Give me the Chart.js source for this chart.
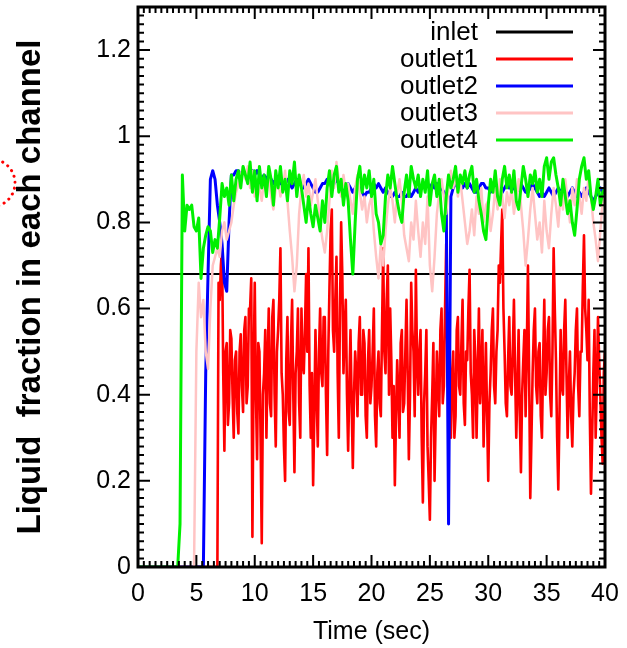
<!DOCTYPE html>
<html>
<head>
<meta charset="utf-8">
<script src="https://cdn.jsdelivr.net/npm/chart.js@4.4.1/dist/chart.umd.min.js"></script>
<style>
  html, body { margin: 0; padding: 0; background: #fff; }
  #wrap { width: 627px; height: 648px; }
</style>
</head>
<body>
<div id="wrap"><canvas id="chart"></canvas></div>
<script>
// sample times (sec) for outlet2..4
const timeSec = [
  0,0.2,0.4,0.6,0.8,1,1.2,1.4,1.6,1.8,
  2,2.2,2.4,2.6,2.8,3,3.2,3.4,3.6,3.8,
  4,4.2,4.4,4.6,4.8,5,5.2,5.4,5.6,5.8,
  6,6.2,6.4,6.6,6.8,7,7.2,7.4,7.6,7.8,
  8,8.2,8.4,8.6,8.8,9,9.2,9.4,9.6,9.8,
  10,10.2,10.4,10.6,10.8,11,11.2,11.4,11.6,11.8,
  12,12.2,12.4,12.6,12.8,13,13.2,13.4,13.6,13.8,
  14,14.2,14.4,14.6,14.8,15,15.2,15.4,15.6,15.8,
  16,16.2,16.4,16.6,16.8,17,17.2,17.4,17.6,17.8,
  18,18.2,18.4,18.6,18.8,19,19.2,19.4,19.6,19.8,
  20,20.2,20.4,20.6,20.8,21,21.2,21.4,21.6,21.8,
  22,22.2,22.4,22.6,22.8,23,23.2,23.4,23.6,23.8,
  24,24.2,24.4,24.6,24.8,25,25.2,25.4,25.6,25.8,
  26,26.2,26.4,26.6,26.8,27,27.2,27.4,27.6,27.8,
  28,28.2,28.4,28.6,28.8,29,29.2,29.4,29.6,29.8,
  30,30.2,30.4,30.6,30.8,31,31.2,31.4,31.6,31.8,
  32,32.2,32.4,32.6,32.8,33,33.2,33.4,33.6,33.8,
  34,34.2,34.4,34.6,34.8,35,35.2,35.4,35.6,35.8,
  36,36.2,36.4,36.6,36.8,37,37.2,37.4,37.6,37.8,
  38,38.2,38.4,38.6,38.8,39,39.2,39.4,39.6,39.8,
  40
];

// outlet1 is sampled finer (noisier signal)
const outlet1Time = [
  0, 6.8, 6.9,
  7,7.1,7.2,7.3,7.4,7.5,7.6,7.7,7.8,7.9,
  8,8.1,8.2,8.3,8.4,8.5,8.6,8.7,8.8,8.9,
  9,9.1,9.2,9.3,9.4,9.5,9.6,9.7,9.8,9.9,
  10,10.1,10.2,10.3,10.4,10.5,10.6,10.7,10.8,10.9,
  11,11.1,11.2,11.3,11.4,11.5,11.6,11.7,11.8,11.9,
  12,12.1,12.2,12.3,12.4,12.5,12.6,12.7,12.8,12.9,
  13,13.1,13.2,13.3,13.4,13.5,13.6,13.7,13.8,13.9,
  14,14.1,14.2,14.3,14.4,14.5,14.6,14.7,14.8,14.9,
  15,15.1,15.2,15.3,15.4,15.5,15.6,15.7,15.8,15.9,
  16,16.1,16.2,16.3,16.4,16.5,16.6,16.7,16.8,16.9,
  17,17.1,17.2,17.3,17.4,17.5,17.6,17.7,17.8,17.9,
  18,18.1,18.2,18.3,18.4,18.5,18.6,18.7,18.8,18.9,
  19,19.1,19.2,19.3,19.4,19.5,19.6,19.7,19.8,19.9,
  20,20.1,20.2,20.3,20.4,20.5,20.6,20.7,20.8,20.9,
  21,21.1,21.2,21.3,21.4,21.5,21.6,21.7,21.8,21.9,
  22,22.1,22.2,22.3,22.4,22.5,22.6,22.7,22.8,22.9,
  23,23.1,23.2,23.3,23.4,23.5,23.6,23.7,23.8,23.9,
  24,24.1,24.2,24.3,24.4,24.5,24.6,24.7,24.8,24.9,
  25,25.1,25.2,25.3,25.4,25.5,25.6,25.7,25.8,25.9,
  26,26.1,26.2,26.3,26.4,26.5,26.6,26.7,26.8,26.9,
  27,27.1,27.2,27.3,27.4,27.5,27.6,27.7,27.8,27.9,
  28,28.1,28.2,28.3,28.4,28.5,28.6,28.7,28.8,28.9,
  29,29.1,29.2,29.3,29.4,29.5,29.6,29.7,29.8,29.9,
  30,30.1,30.2,30.3,30.4,30.5,30.6,30.7,30.8,30.9,
  31,31.1,31.2,31.3,31.4,31.5,31.6,31.7,31.8,31.9,
  32,32.1,32.2,32.3,32.4,32.5,32.6,32.7,32.8,32.9,
  33,33.1,33.2,33.3,33.4,33.5,33.6,33.7,33.8,33.9,
  34,34.1,34.2,34.3,34.4,34.5,34.6,34.7,34.8,34.9,
  35,35.1,35.2,35.3,35.4,35.5,35.6,35.7,35.8,35.9,
  36,36.1,36.2,36.3,36.4,36.5,36.6,36.7,36.8,36.9,
  37,37.1,37.2,37.3,37.4,37.5,37.6,37.7,37.8,37.9,
  38,38.1,38.2,38.3,38.4,38.5,38.6,38.7,38.8,38.9,
  39,39.1,39.2,39.3,39.4,39.5,39.6,39.7,39.8,39.9,
  40
];

const inletTime = [0, 40];
const inletVals = [0.68, 0.68];

const outlet1Vals = [
  0, 0, 0.66,
  0.62,0.7,0.74,0.45,0.27,0.5,0.52,0.33,0.38,0.55,
  0.53,0.4,0.3,0.48,0.5,0.36,0.31,0.5,0.54,0.42,
  0.36,0.55,0.58,0.38,0.42,0.6,0.6,0.67,0.07,0.45,
  0.66,0.4,0.25,0.52,0.5,0.3,0.055,0.4,0.45,0.55,
  0.3,0.48,0.6,0.38,0.35,0.58,0.62,0.4,0.28,0.5,
  0.55,0.62,0.74,0.45,0.4,0.28,0.2,0.48,0.58,0.36,
  0.33,0.52,0.62,0.4,0.22,0.45,0.5,0.6,0.38,0.3,
  0.6,0.48,0.45,0.55,0.68,0.5,0.74,0.42,0.3,0.45,
  0.19,0.35,0.55,0.4,0.28,0.5,0.6,0.45,0.42,0.58,
  0.58,0.4,0.26,0.5,0.65,0.78,0.83,0.55,0.5,0.62,
  0.72,0.45,0.3,0.6,0.8,0.68,0.45,0.55,0.62,0.4,
  0.27,0.42,0.55,0.38,0.23,0.4,0.5,0.45,0.35,0.52,
  0.58,0.4,0.4,0.55,0.52,0.35,0.3,0.48,0.55,0.38,
  0.42,0.5,0.6,0.35,0.28,0.45,0.5,0.38,0.35,0.55,
  0.74,0.5,0.45,0.62,0.7,0.4,0.6,0.48,0.3,0.42,
  0.19,0.35,0.48,0.4,0.3,0.52,0.55,0.36,0.38,0.5,
  0.62,0.45,0.25,0.4,0.66,0.55,0.5,0.35,0.69,0.48,
  0.4,0.5,0.55,0.3,0.15,0.38,0.45,0.55,0.28,0.2,
  0.11,0.3,0.4,0.52,0.2,0.35,0.5,0.42,0.35,0.55,
  0.6,0.38,0.42,0.6,0.75,0.5,0.55,0.4,0.3,0.45,
  0.5,0.3,0.35,0.55,0.58,0.42,0.4,0.52,0.62,0.38,
  0.33,0.5,0.48,0.6,0.69,0.45,0.4,0.3,0.55,0.48,
  0.3,0.45,0.6,0.38,0.45,0.55,0.28,0.4,0.52,0.35,
  0.2,0.38,0.45,0.55,0.6,0.42,0.38,0.5,0.55,0.7,
  0.66,0.75,0.83,0.6,0.5,0.38,0.35,0.48,0.58,0.42,
  0.4,0.5,0.62,0.45,0.3,0.42,0.55,0.35,0.22,0.4,
  0.48,0.55,0.35,0.5,0.7,0.45,0.16,0.3,0.45,0.55,
  0.6,0.42,0.38,0.5,0.52,0.35,0.3,0.48,0.62,0.4,
  0.45,0.55,0.58,0.4,0.35,0.5,0.74,0.6,0.48,0.3,
  0.18,0.35,0.55,0.42,0.4,0.55,0.62,0.45,0.3,0.42,
  0.5,0.35,0.28,0.4,0.45,0.55,0.6,0.42,0.35,0.5,
  0.5,0.65,0.77,0.6,0.55,0.48,0.62,0.35,0.17,0.3,
  0.45,0.55,0.3,0.42,0.58,0.48,0.4,0.3,0.24,0.45,
  0.5
];

const outlet2Vals = [
  0,0,0,0,0,0,0,0,0,0,
  0,0,0,0,0,0,0,0,0,0,
  0,0,0,0,0,0,0,0,0,0.45,
  0.68,0.9,0.92,0.9,0.84,0.8,0.75,0.66,0.64,0.8,
  0.91,0.91,0.92,0.92,0.91,0.92,0.91,0.9,0.91,0.92,
  0.91,0.92,0.91,0.9,0.91,0.9,0.91,0.9,0.89,0.9,
  0.9,0.89,0.9,0.89,0.9,0.89,0.88,0.89,0.9,0.89,
  0.89,0.88,0.89,0.9,0.89,0.88,0.87,0.87,0.88,0.89,
  0.89,0.9,0.89,0.88,0.89,0.9,0.89,0.88,0.87,0.88,
  0.89,0.88,0.87,0.88,0.89,0.88,0.87,0.86,0.87,0.87,
  0.88,0.89,0.88,0.89,0.88,0.87,0.88,0.87,0.86,0.86,
  0.87,0.86,0.86,0.87,0.86,0.86,0.87,0.86,0.87,0.88,
  0.87,0.88,0.89,0.88,0.89,0.88,0.89,0.88,0.89,0.88,
  0.88,0.87,0.86,0.1,0.86,0.88,0.89,0.88,0.89,0.88,
  0.89,0.88,0.89,0.88,0.87,0.87,0.88,0.89,0.89,0.88,
  0.88,0.87,0.89,0.88,0.87,0.86,0.87,0.88,0.89,0.88,
  0.89,0.88,0.87,0.88,0.89,0.88,0.87,0.87,0.88,0.89,
  0.88,0.87,0.86,0.87,0.86,0.87,0.88,0.87,0.86,0.87,
  0.88,0.87,0.88,0.87,0.86,0.87,0.88,0.87,0.86,0.87,
  0.86,0.87,0.88,0.87,0.86,0.85,0.86,0.87,0.88,0.87,
  0.88
];

const outlet3Vals = [
  0,0,0,0,0,0,0,0,0,0,
  0,0,0,0,0,0,0,0,0,0,
  0,0,0,0,0,0.5,0.66,0.58,0.62,0.5,
  0.46,0.6,0.7,0.72,0.74,0.72,0.78,0.8,0.76,0.78,
  0.8,0.84,0.87,0.89,0.91,0.93,0.9,0.93,0.88,0.92,
  0.86,0.9,0.88,0.85,0.9,0.87,0.91,0.86,0.83,0.88,
  0.9,0.86,0.88,0.92,0.85,0.78,0.72,0.64,0.7,0.82,
  0.88,0.91,0.86,0.89,0.84,0.87,0.9,0.85,0.8,0.76,
  0.73,0.78,0.85,0.92,0.88,0.94,0.9,0.86,0.91,0.87,
  0.89,0.85,0.82,0.88,0.91,0.87,0.83,0.86,0.8,0.84,
  0.86,0.78,0.72,0.67,0.75,0.7,0.78,0.84,0.88,0.85,
  0.8,0.87,0.9,0.85,0.77,0.74,0.71,0.8,0.76,0.85,
  0.78,0.72,0.8,0.75,0.86,0.7,0.64,0.72,0.82,0.87,
  0.9,0.86,0.82,0.88,0.92,0.88,0.91,0.86,0.9,0.85,
  0.8,0.75,0.78,0.83,0.77,0.86,0.82,0.88,0.8,0.84,
  0.85,0.78,0.82,0.88,0.83,0.9,0.86,0.81,0.87,0.84,
  0.88,0.82,0.86,0.9,0.84,0.78,0.7,0.76,0.83,0.88,
  0.82,0.76,0.8,0.73,0.85,0.78,0.74,0.82,0.88,0.84,
  0.79,0.87,0.83,0.9,0.85,0.8,0.88,0.84,0.9,0.86,
  0.82,0.88,0.85,0.91,0.86,0.8,0.76,0.71,0.78,0.85,
  0.86
];

const outlet4Vals = [
  0,0,0,0,0,0,0,0,0,0,
  0,0,0,0,0,0,0,0,0.1,0.91,
  0.78,0.84,0.83,0.84,0.79,0.78,0.81,0.67,0.74,0.77,
  0.79,0.78,0.73,0.76,0.74,0.81,0.89,0.86,0.88,0.84,
  0.91,0.85,0.9,0.92,0.88,0.93,0.91,0.89,0.94,0.87,
  0.92,0.85,0.93,0.88,0.91,0.86,0.93,0.9,0.84,0.92,
  0.88,0.93,0.87,0.9,0.85,0.92,0.89,0.94,0.86,0.91,
  0.88,0.84,0.8,0.86,0.82,0.79,0.84,0.81,0.78,0.85,
  0.8,0.88,0.92,0.86,0.91,0.93,0.87,0.9,0.84,0.89,
  0.85,0.76,0.68,0.8,0.9,0.93,0.87,0.91,0.88,0.92,
  0.86,0.9,0.82,0.8,0.75,0.77,0.86,0.91,0.88,0.93,
  0.89,0.85,0.82,0.8,0.87,0.91,0.86,0.93,0.9,0.88,
  0.91,0.86,0.9,0.87,0.92,0.84,0.89,0.91,0.86,0.9,
  0.82,0.78,0.86,0.91,0.88,0.9,0.93,0.87,0.91,0.89,
  0.92,0.88,0.91,0.93,0.87,0.9,0.85,0.82,0.78,0.76,
  0.84,0.9,0.87,0.92,0.86,0.84,0.9,0.93,0.88,0.91,
  0.87,0.92,0.85,0.83,0.88,0.93,0.9,0.86,0.91,0.89,
  0.92,0.87,0.9,0.86,0.93,0.95,0.9,0.94,0.95,0.91,
  0.88,0.84,0.9,0.86,0.82,0.85,0.8,0.77,0.83,0.9,
  0.93,0.95,0.9,0.92,0.86,0.83,0.86,0.9,0.84,0.87,
  0.88
];

const xTickValues = [0, 5, 10, 15, 20, 25, 30, 35, 40];
const yTickValues = [0, 0.2, 0.4, 0.6, 0.8, 1, 1.2];
const yTickLabels = ['0', '0.2', '0.4', '0.6', '0.8', '1', '1.2'];

const FONT = '"Liberation Sans", Arial, Helvetica, sans-serif';

function pts(xs, ys) {
  return xs.map((t, i) => ({ x: t, y: ys[i] }));
}

// frame with inward ticks on all four sides, like gnuplot
const framePlugin = {
  id: 'frame',
  afterDatasetsDraw(chart) {
    const { ctx, chartArea: a, scales: { x, y } } = chart;
    ctx.save();
    ctx.strokeStyle = '#000';
    ctx.lineWidth = 2;
    ctx.beginPath();
    for (let i = 0; i <= 80; i++) {
      const px = x.getPixelForValue(i * 0.5);
      const len = i % 10 === 0 ? 12 : 6;
      ctx.moveTo(px, a.bottom); ctx.lineTo(px, a.bottom - len);
      ctx.moveTo(px, a.top); ctx.lineTo(px, a.top + len);
    }
    for (let i = 0; i <= 65; i++) {
      const py = y.getPixelForValue(i * 0.02);
      const len = i % 10 === 0 ? 12 : 6;
      ctx.moveTo(a.left, py); ctx.lineTo(a.left + len, py);
      ctx.moveTo(a.right, py); ctx.lineTo(a.right - len, py);
    }
    ctx.stroke();
    ctx.lineWidth = 3;
    ctx.strokeRect(a.left, a.top, a.right - a.left, a.bottom - a.top);
    ctx.restore();
  }
};

const legendPlugin = {
  id: 'insideLegend',
  afterDraw(chart) {
    const ctx = chart.ctx;
    ctx.save();
    ctx.font = '26px ' + FONT;
    ctx.textAlign = 'right';
    ctx.textBaseline = 'middle';
    chart.data.datasets.forEach((ds, i) => {
      const ly = 32 + i * 27;
      ctx.fillStyle = '#000';
      ctx.fillText(ds.label, 478, ly + 1);
      ctx.strokeStyle = ds.borderColor;
      ctx.lineWidth = 3;
      ctx.beginPath();
      ctx.moveTo(496, ly);
      ctx.lineTo(573, ly);
      ctx.stroke();
    });
    // the dotted red circle cut off at the left edge
    ctx.strokeStyle = '#ff0000';
    ctx.lineWidth = 3;
    ctx.lineCap = 'round';
    ctx.setLineDash([0.1, 6]);
    ctx.beginPath();
    ctx.arc(-9, 183, 24, -Math.PI / 2, Math.PI / 2);
    ctx.stroke();
    ctx.restore();
  }
};

new Chart(document.getElementById('chart'), {
  type: 'line',
  data: {
    datasets: [
      { label: 'inlet', data: pts(inletTime, inletVals), borderColor: '#000000', borderWidth: 2, order: 4 },
      { label: 'outlet1', data: pts(outlet1Time, outlet1Vals), borderColor: '#ff0000', borderWidth: 2.6, order: 3 },
      { label: 'outlet2', data: pts(timeSec, outlet2Vals), borderColor: '#0000ff', borderWidth: 3, order: 2 },
      { label: 'outlet3', data: pts(timeSec, outlet3Vals), borderColor: '#ffc4c4', borderWidth: 2.5, order: 1 },
      { label: 'outlet4', data: pts(timeSec, outlet4Vals), borderColor: '#00f000', borderWidth: 3, order: 0 }
    ]
  },
  options: {
    responsive: true,
    maintainAspectRatio: false,
    animation: false,
    elements: {
      point: { radius: 0 },
      line: { tension: 0, borderJoinStyle: 'round', fill: false }
    },
    layout: { padding: { left: 7, right: 22, top: 7, bottom: 1 } },
    plugins: { legend: { display: false }, tooltip: { enabled: false } },
    scales: {
      x: {
        type: 'linear',
        min: 0, max: 40,
        afterBuildTicks: s => { s.ticks = xTickValues.map(v => ({ value: v })); },
        afterFit: s => { s.height = 80; s.paddingLeft = 0; s.paddingRight = 0; },
        grid: { display: false, drawTicks: false },
        border: { display: false },
        ticks: { color: '#000', padding: 12, maxRotation: 0, font: { family: FONT, size: 25 } },
        title: { display: true, text: 'Time (sec)', color: '#000', padding: { top: 0, bottom: 0 }, font: { family: FONT, size: 25 } }
      },
      y: {
        type: 'linear',
        min: 0, max: 1.3,
        afterBuildTicks: s => { s.ticks = yTickValues.map(v => ({ value: v })); },
        afterFit: s => { s.width = 131; s.paddingTop = 0; s.paddingBottom = 0; },
        grid: { display: false, drawTicks: false },
        border: { display: false },
        ticks: {
          color: '#000', padding: 7, font: { family: FONT, size: 25 },
          callback: (v, i) => yTickLabels[i]
        },
        title: { display: true, text: 'Liquid  fraction in each channel', color: '#000', padding: { top: 4, bottom: 0 }, font: { family: FONT, size: 33, weight: 'bold' } }
      }
    }
  },
  plugins: [framePlugin, legendPlugin]
});
</script>
</body>
</html>
